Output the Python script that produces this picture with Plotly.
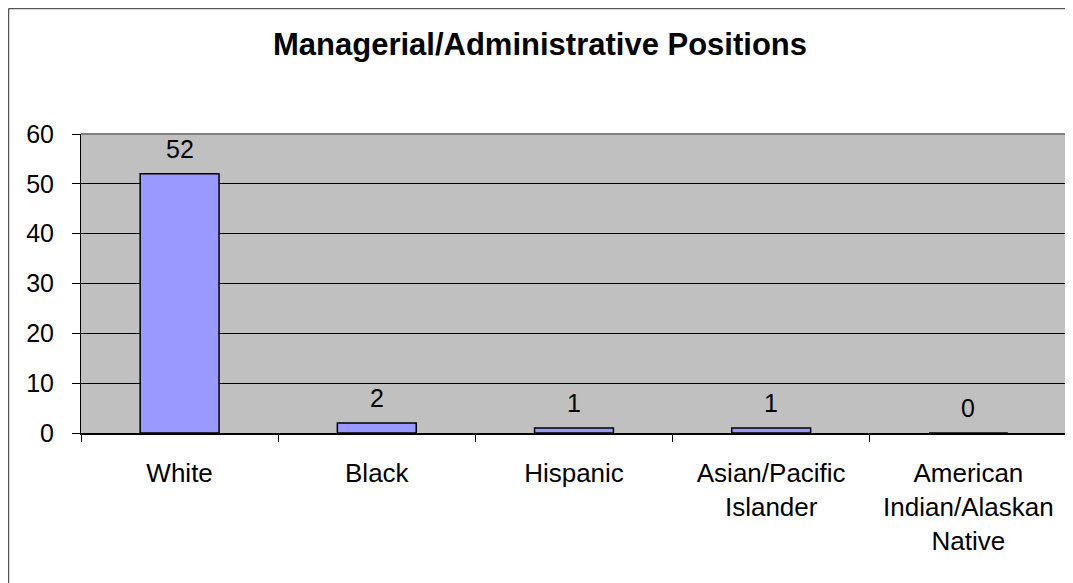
import plotly.graph_objects as go

categories = ["White", "Black", "Hispanic", "Asian/Pacific<br>Islander", "American<br>Indian/Alaskan<br>Native"]
values = [52, 2, 1, 1, 0]
y_ticks = [0, 10, 20, 30, 40, 50, 60]
title = "Managerial/Administrative Positions"

# page is offset by the 8px body margin
W, H = 1065, 575
L, R, T, B = 73, 1059, 126, 425

fig = go.Figure(go.Bar(
    x=categories, y=values,
    width=0.4,
    marker=dict(color="#9999FF", line=dict(color="black", width=1.5)),
    hoverinfo="x+y",
))

for c, v in zip(categories, values):
    fig.add_annotation(x=c, y=v, xref="x", yref="y", text=str(v), showarrow=False,
                       yanchor="middle", yshift=25,
                       font=dict(family="Liberation Sans, Arial", size=25, color="black"))

pw, ph = R - L, B - T
def px_x(x): return (x - L) / pw
def px_y(y): return (B - y) / ph

fig.update_layout(
    width=W, height=H,
    margin=dict(l=L, r=W - R, t=T, b=H - B),
    paper_bgcolor="white", plot_bgcolor="#C0C0C0",
    showlegend=False,
    font=dict(family="Liberation Sans, Arial", size=25, color="black"),
    title=dict(text="<b>" + title + "</b>", x=532 / W, xref="container", xanchor="center",
               y=1 - 36 / H, yref="container", yanchor="middle",
               font=dict(size=31, family="Liberation Sans, Arial", color="black")),
    shapes=[
        dict(type="line", xref="paper", yref="paper",
             x0=px_x(0.5), x1=px_x(W), y0=px_y(0.5), y1=px_y(0.5),
             line=dict(color="#555555", width=1.5)),
        dict(type="line", xref="paper", yref="paper",
             x0=px_x(0.5), x1=px_x(0.5), y0=px_y(0.5), y1=px_y(H),
             line=dict(color="#555555", width=1.5)),
        dict(type="line", xref="paper", yref="paper", x0=0, x1=1, y0=1, y1=1,
             line=dict(color="#808080", width=2)),
        dict(type="line", xref="paper", yref="paper", x0=1, x1=1, y0=0, y1=1,
             line=dict(color="#808080", width=3)),
    ],
)

fig.update_yaxes(
    range=[0, 60], tickvals=y_ticks, ticktext=[str(t) for t in y_ticks],
    showgrid=True, gridcolor="black", gridwidth=1,
    showline=True, linecolor="black", linewidth=1,
    ticks="outside", ticklen=8, tickcolor="black",
    zeroline=False, tickfont=dict(size=25),
    ticklabelstandoff=13,
)
fig.update_xaxes(
    showline=True, linecolor="black", linewidth=1.5,
    ticks="outside", ticklen=7, tickcolor="black", tickson="boundaries",
    showgrid=False, tickfont=dict(size=26),
    ticklabelstandoff=16,
)

fig.write_html("out.html")
